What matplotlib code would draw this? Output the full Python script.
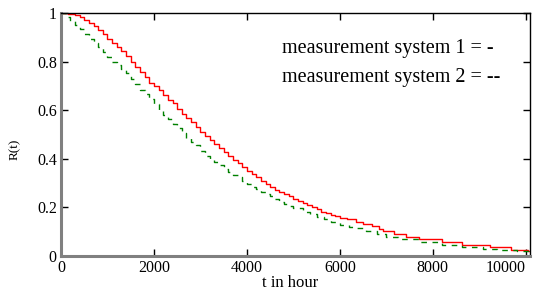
import matplotlib
matplotlib.use("Agg")
import matplotlib.pyplot as plt

# reliability curves (t in hours, R(t))
t_sys1 = [0, 150, 300, 400, 500, 600, 700, 800, 900, 1000, 1100, 1200, 1300, 1400,
          1500, 1600, 1700, 1800, 1900, 2000, 2100, 2200, 2300, 2400, 2500, 2600,
          2700, 2800, 2900, 3000, 3100, 3200, 3300, 3400, 3500, 3600, 3700, 3800,
          3900, 4000, 4100, 4200, 4300, 4400, 4500, 4600, 4700, 4800, 4900, 5000,
          5100, 5200, 5300, 5400, 5500, 5600, 5700, 5800, 5900, 6000, 6150, 6350,
          6500, 6700, 6850, 6930, 7160, 7420, 7700, 8190, 8620, 9230, 9690, 10050,
          10090]
r_sys1 = [1.0, 0.997, 0.99, 0.982, 0.972, 0.96, 0.945, 0.93, 0.912, 0.895, 0.878,
          0.86, 0.842, 0.822, 0.80, 0.778, 0.756, 0.737, 0.714, 0.698, 0.684, 0.662,
          0.642, 0.628, 0.606, 0.586, 0.568, 0.55, 0.53, 0.51, 0.494, 0.477, 0.46,
          0.443, 0.427, 0.41, 0.396, 0.382, 0.366, 0.35, 0.336, 0.326, 0.31, 0.296,
          0.283, 0.272, 0.264, 0.256, 0.246, 0.236, 0.228, 0.219, 0.21, 0.20, 0.192,
          0.182, 0.176, 0.168, 0.163, 0.158, 0.151, 0.141, 0.132, 0.123, 0.111,
          0.103, 0.089, 0.078, 0.069, 0.059, 0.045, 0.036, 0.025, 0.02, 0.02]

t_sys2 = [0, 100, 200, 300, 400, 500, 600, 700, 800, 900, 1000, 1100, 1200, 1300,
          1400, 1500, 1600, 1700, 1800, 1900, 2000, 2100, 2200, 2300, 2400, 2500,
          2600, 2700, 2800, 2900, 3000, 3100, 3200, 3300, 3400, 3500, 3600, 3700,
          3800, 3900, 4000, 4100, 4200, 4300, 4400, 4500, 4600, 4700, 4800, 4900,
          5000, 5200, 5350, 5500, 5650, 5800, 6000, 6200, 6360, 6570, 6790, 7000,
          7250, 7700, 8200, 8620, 9080, 9370, 9800, 10050, 10090]
r_sys2 = [1.0, 0.985, 0.968, 0.951, 0.935, 0.912, 0.895, 0.878, 0.861, 0.84, 0.818,
          0.80, 0.785, 0.768, 0.752, 0.73, 0.707, 0.683, 0.665, 0.645, 0.625, 0.598,
          0.58, 0.562, 0.543, 0.525, 0.505, 0.485, 0.468, 0.455, 0.432, 0.413, 0.40,
          0.388, 0.374, 0.36, 0.344, 0.332, 0.324, 0.31, 0.295, 0.285, 0.276, 0.265,
          0.255, 0.245, 0.233, 0.222, 0.214, 0.205, 0.196, 0.182, 0.172, 0.162,
          0.152, 0.141, 0.128, 0.12, 0.114, 0.103, 0.091, 0.079, 0.07, 0.058, 0.045,
          0.036, 0.029, 0.025, 0.02, 0.008, 0.008]

x_ticks = [0, 2000, 4000, 6000, 8000, 10000]
y_ticks = [0, 0.2, 0.4, 0.6, 0.8, 1]
y_ticklabels = ["0", "0.2", "0.4", "0.6", "0.8", "1"]

plt.rcParams["font.family"] = ["Liberation Serif", "DejaVu Serif"]

fig = plt.figure(figsize=(5.33, 2.91), dpi=100)
ax = fig.add_axes([0.1144, 0.1203, 0.88, 0.835])

ax.plot(t_sys1, r_sys1, color="#ff0000", lw=1.0, drawstyle="steps-post")
ax.plot(t_sys2, r_sys2, color="#008000", lw=1.0, drawstyle="steps-post",
        dashes=(4, 4))

ax.set_xlim(0, 10090)
ax.set_ylim(0, 1)
ax.set_xticks(x_ticks)
ax.set_xticklabels([str(v) for v in x_ticks])
ax.set_yticks(y_ticks)
ax.set_yticklabels(y_ticklabels)
ax.tick_params(direction="in", length=5, width=1, labelsize=11.5,
               top=True, right=True, pad=3)
# last x label sits inside the frame like the original
ax.get_xticklabels()[-1].set_horizontalalignment("right")

for side in ("left", "bottom"):
    ax.spines[side].set_color("#808080")
    ax.spines[side].set_linewidth(2.2)
for side in ("top", "right"):
    ax.spines[side].set_color("black")
    ax.spines[side].set_linewidth(1.0)

ax.set_xlabel("t in hour", fontsize=12)
ax.xaxis.set_label_coords(0.488, -0.078)
ax.set_ylabel("R(t)", fontsize=9.5)
ax.yaxis.set_label_coords(-0.085, 0.44)

ax.text(0.471, 0.835, "measurement system 1 = -", transform=ax.transAxes,
        fontsize=14.5, va="baseline")
ax.text(0.471, 0.716, "measurement system 2 = --", transform=ax.transAxes,
        fontsize=14.5, va="baseline")

fig.savefig("out.png", dpi=100)
